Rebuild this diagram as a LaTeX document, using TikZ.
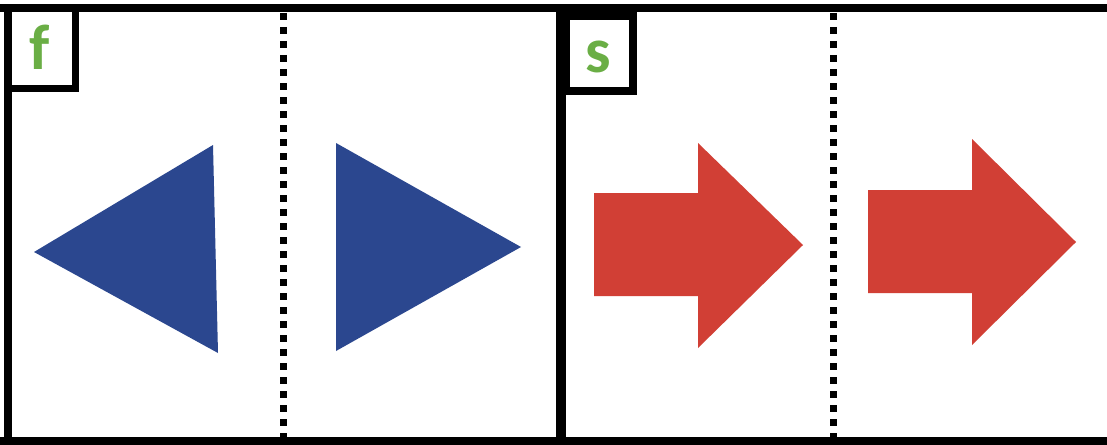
\documentclass[tikz,border=0pt]{standalone}
\usepackage{fontspec}
\setmainfont{Carlito}
\definecolor{tblue}{RGB}{43,71,143}
\definecolor{tred}{RGB}{209,63,53}
\definecolor{tgreen}{RGB}{106,174,69}
\begin{document}
\begin{tikzpicture}[x=1pt,y=-1pt,
  frame/.style={line width=8pt,draw=black},
  divider/.style={line width=7pt,draw=black,dash pattern=on 7pt off 7pt},
  tag/.style={line width=7.5pt,draw=black,fill=white},
  tagtext/.style={text=tgreen,font=\fontsize{64}{64}\selectfont\bfseries,inner sep=0pt,anchor=base}]
\useasboundingbox (0,0) rectangle (1107,444);
\fill[white] (0,0) rectangle (1107,444);
% dotted dividers
\draw[divider] (283,13) -- (283,440);
\draw[divider] (833,13) -- (833,440);
% frame
\draw[frame] (0,8.5) -- (1107,8.5);
\draw[frame] (0,441) -- (1107,441);
\draw[frame] (8,5) -- (8,444);
\draw[line width=10pt] (561,5) -- (561,444);
% tag boxes
\draw[tag] (8.5,8.5) rectangle (75.5,88.5);
\draw[tag] (566,16) rectangle (633,91);
\node[tagtext] (f) at (40,70) {f};
\node[tagtext] (s) at (598,72) {s};
% blue triangles
\fill[tblue] (34,252) -- (213,145) -- (218,353) -- cycle;
\fill[tblue] (336,143) -- (521,247) -- (336,351) -- cycle;
% red arrows
\fill[tred] (594,193) -- (698,193) -- (698,143) -- (803,245) -- (698,348) -- (698,296) -- (594,296) -- cycle;
\fill[tred] (868,190) -- (972,190) -- (972,139) -- (1076,242) -- (972,345) -- (972,293) -- (868,293) -- cycle;
\end{tikzpicture}
\end{document}
